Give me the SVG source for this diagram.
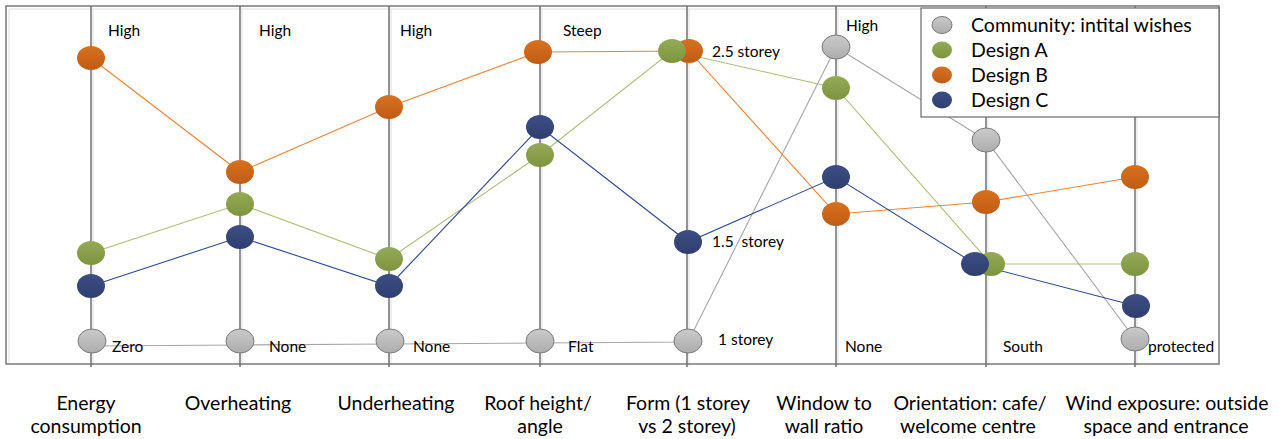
<svg xmlns="http://www.w3.org/2000/svg" width="1279" height="439" viewBox="0 0 1279 439">
<defs>
<linearGradient id="gO" x1="0" y1="0" x2="0" y2="1"><stop offset="0" stop-color="#D8711F"/><stop offset="1" stop-color="#BF5C15"/></linearGradient>
<linearGradient id="gG" x1="0" y1="0" x2="0" y2="1"><stop offset="0" stop-color="#94AA56"/><stop offset="1" stop-color="#7C943F"/></linearGradient>
<linearGradient id="gB" x1="0" y1="0" x2="0" y2="1"><stop offset="0" stop-color="#3C4E84"/><stop offset="1" stop-color="#2E3E6E"/></linearGradient>
<linearGradient id="gC" x1="0" y1="0" x2="0" y2="1"><stop offset="0" stop-color="#CACACA"/><stop offset="1" stop-color="#ADADAD"/></linearGradient>
</defs>
<style>
.t{font-family:Lato,"Liberation Sans",sans-serif;fill:#000}
.top{font-size:15.5px}
.ax{font-size:19.5px;text-anchor:middle}
.lg{font-size:19.5px}
.axis{stroke:#6e6e6e;stroke-width:1.5}
.faint{stroke:#dedede;stroke-width:1}
.o{fill:url(#gO)}
.g{fill:url(#gG)}
.b{fill:url(#gB)}
.c{fill:url(#gC);stroke:#7a7a7a;stroke-width:1}
.lo{fill:none;stroke:#E8843A;stroke-width:1.1}
.lgr{fill:none;stroke:#A9BF78;stroke-width:1.1}
.lb{fill:none;stroke:#2F4A8C;stroke-width:1.1}
.lc{fill:none;stroke:#A6A6A6;stroke-width:1.1}
</style>
<rect x="0" y="0" width="1279" height="439" fill="#fff"/>
<g id="frame">
<line class="faint" x1="9" y1="9" x2="9" y2="362"/>
<line class="faint" x1="9" y1="9" x2="1217" y2="9"/>
<line class="faint" x1="93" y1="9" x2="93" y2="366"/>
<line class="faint" x1="242" y1="9" x2="242" y2="366"/>
<line class="faint" x1="391" y1="9" x2="391" y2="366"/>
<line class="faint" x1="542" y1="9" x2="542" y2="366"/>
<line class="faint" x1="689" y1="9" x2="689" y2="366"/>
<line class="faint" x1="838" y1="9" x2="838" y2="366"/>
<line class="faint" x1="988" y1="9" x2="988" y2="366"/>
<line class="faint" x1="1137" y1="9" x2="1137" y2="366"/>
<rect x="6" y="6" width="1213" height="358" fill="none" stroke="#7a7a7a" stroke-width="1.5"/>
<line class="axis" x1="91" y1="6" x2="91" y2="367"/>
<line class="axis" x1="240" y1="6" x2="240" y2="367"/>
<line class="axis" x1="389" y1="6" x2="389" y2="367"/>
<line class="axis" x1="540" y1="6" x2="540" y2="367"/>
<line class="axis" x1="687" y1="6" x2="687" y2="367"/>
<line class="axis" x1="836" y1="6" x2="836" y2="367"/>
<line class="axis" x1="986" y1="6" x2="986" y2="367"/>
<line class="axis" x1="1135" y1="6" x2="1135" y2="367"/>
</g>
<g id="connectors">
<polyline id="line-community" class="lc" points="92,346 240,345 390,344 540,343 688,342 836,47 986,140 1135,339"/>
<polyline id="line-designA" class="lgr" points="91,253 240,204 389,259 540,155 672,51 836,88 991,264 1135,264"/>
<polyline id="line-designB" class="lo" points="91,58 240,172 389,107 538,52 689,51 836,214 986,202 1135,177"/>
<polyline id="line-designC" class="lb" points="91,286 240,237 389,286 540,127 688,242 836,177 975,264 1136,306"/>
</g>
<g id="labels" class="t top">
<text x="108" y="36">High</text>
<text x="259" y="36">High</text>
<text x="400" y="36">High</text>
<text x="563" y="36">Steep</text>
<text x="712" y="57">2.5 storey</text>
<text x="712" y="247" style="white-space:pre">1.5  storey</text>
<text x="718" y="345">1 storey</text>
<text x="846" y="31">High</text>
<text x="112" y="352">Zero</text>
<text x="269" y="352">None</text>
<text x="413" y="352">None</text>
<text x="568" y="352">Flat</text>
<text x="845" y="352">None</text>
<text x="1003" y="352">South</text>
<text x="1148" y="352">protected</text>
</g>
<g id="community">
<g id="c1"><ellipse class="c" cx="92" cy="341" rx="14" ry="12"/></g>
<g id="c2"><ellipse class="c" cx="240" cy="341" rx="14" ry="12"/></g>
<g id="c3"><ellipse class="c" cx="390" cy="341" rx="14" ry="12"/></g>
<g id="c4"><ellipse class="c" cx="540" cy="341" rx="14" ry="12"/></g>
<g id="c5"><ellipse class="c" cx="688" cy="341" rx="14" ry="12"/></g>
<g id="c6"><ellipse class="c" cx="836" cy="47" rx="14" ry="12"/></g>
<g id="c7"><ellipse class="c" cx="986" cy="140" rx="14" ry="12"/></g>
<g id="c8"><ellipse class="c" cx="1135" cy="339" rx="14" ry="12"/></g>
</g>
<g id="designB">
<g id="b1"><ellipse class="o" cx="91" cy="58" rx="14" ry="12"/></g>
<g id="b2"><ellipse class="o" cx="240" cy="172" rx="14" ry="12"/></g>
<g id="b3"><ellipse class="o" cx="389" cy="107" rx="14" ry="12"/></g>
<g id="b4"><ellipse class="o" cx="538" cy="52" rx="14" ry="12"/></g>
<g id="b5"><ellipse class="o" cx="689" cy="51" rx="14" ry="12"/></g>
<g id="b6"><ellipse class="o" cx="836" cy="214" rx="14" ry="12"/></g>
<g id="b7"><ellipse class="o" cx="986" cy="202" rx="14" ry="12"/></g>
<g id="b8"><ellipse class="o" cx="1135" cy="177" rx="14" ry="12"/></g>
</g>
<g id="designA">
<g id="a1"><ellipse class="g" cx="91" cy="253" rx="14" ry="12"/></g>
<g id="a2"><ellipse class="g" cx="240" cy="204" rx="14" ry="12"/></g>
<g id="a3"><ellipse class="g" cx="389" cy="259" rx="14" ry="12"/></g>
<g id="a4"><ellipse class="g" cx="540" cy="155" rx="14" ry="12"/></g>
<g id="a5"><ellipse class="g" cx="672" cy="51" rx="14" ry="12"/></g>
<g id="a6"><ellipse class="g" cx="836" cy="88" rx="14" ry="12"/></g>
<g id="a7"><ellipse class="g" cx="991" cy="264" rx="14" ry="12"/></g>
<g id="a8"><ellipse class="g" cx="1135" cy="264" rx="14" ry="12"/></g>
</g>
<g id="designC">
<g id="d1"><ellipse class="b" cx="91" cy="286" rx="14" ry="12"/></g>
<g id="d2"><ellipse class="b" cx="240" cy="237" rx="14" ry="12"/></g>
<g id="d3"><ellipse class="b" cx="389" cy="286" rx="14" ry="12"/></g>
<g id="d4"><ellipse class="b" cx="540" cy="127" rx="14" ry="12"/></g>
<g id="d5"><ellipse class="b" cx="688" cy="242" rx="14" ry="12"/></g>
<g id="d6"><ellipse class="b" cx="836" cy="177" rx="14" ry="12"/></g>
<g id="d7"><ellipse class="b" cx="975" cy="264" rx="14" ry="12"/></g>
<g id="d8"><ellipse class="b" cx="1136" cy="306" rx="14" ry="12"/></g>
</g>
<g id="legend">
<rect x="921" y="8" width="298" height="109" fill="#fff" stroke="#6a6a6a" stroke-width="1.2"/>
<ellipse class="c" cx="942" cy="25" rx="10" ry="8.5"/>
<ellipse class="g" cx="942" cy="50" rx="10" ry="8.5"/>
<ellipse class="o" cx="942" cy="75" rx="10" ry="8.5"/>
<ellipse class="b" cx="942" cy="100" rx="10" ry="8.5"/>
<text class="t lg" x="971" y="32">Community: intital wishes</text>
<text class="t lg" x="971" y="57">Design A</text>
<text class="t lg" x="971" y="82">Design B</text>
<text class="t lg" x="971" y="107">Design C</text>
</g>
<g id="axis-titles" class="t ax">
<text x="86" y="410">Energy</text>
<text x="86" y="433">consumption</text>
<text x="238" y="410">Overheating</text>
<text x="396" y="410">Underheating</text>
<text x="538" y="410">Roof height/</text>
<text x="540" y="433">angle</text>
<text x="688" y="410">Form (1 storey</text>
<text x="687" y="433">vs 2 storey)</text>
<text x="824" y="410">Window to</text>
<text x="824" y="433">wall ratio</text>
<text x="970" y="410">Orientation: cafe/</text>
<text x="968" y="433">welcome centre</text>
<text x="1167" y="410">Wind exposure: outside</text>
<text x="1166" y="433">space and entrance</text>
</g>
</svg>
